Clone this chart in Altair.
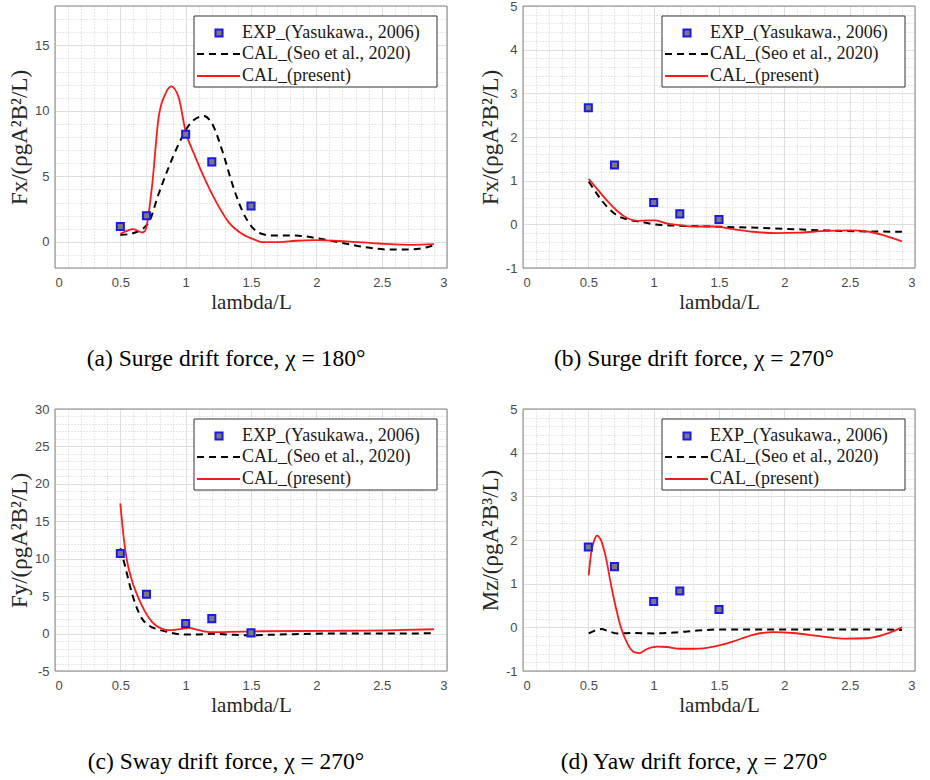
import altair as alt
import pandas as pd

# ---------------- data ----------------
X_EXP = [0.5, 0.7, 1.0, 1.2, 1.5]

# (a) surge, chi = 180
A_EXP = [1.17, 1.99, 8.21, 6.10, 2.73]
A_SEO_X = [0.5, 0.614, 0.717, 0.793, 0.87, 0.947, 1.024, 1.1, 1.14, 1.203, 1.28, 1.357,
           1.433, 1.51, 1.587, 1.664, 1.84, 2.0, 2.18, 2.355, 2.56, 2.71, 2.84, 2.9]
A_SEO_Y = [0.51, 0.71, 1.48, 3.65, 5.69, 7.47, 8.88, 9.52, 9.6, 9.0, 6.96, 4.41,
           2.37, 1.1, 0.59, 0.48, 0.48, 0.28, -0.05, -0.38, -0.59, -0.59, -0.43, -0.26]
A_PRE_X = [0.5, 0.6, 0.665, 0.69, 0.742, 0.793, 0.845, 0.89, 0.947, 0.998, 1.075, 1.152,
           1.228, 1.33, 1.433, 1.536, 1.587, 1.715, 1.84, 1.996, 2.227, 2.48, 2.74, 2.9]
A_PRE_Y = [0.59, 0.97, 0.71, 0.84, 4.2, 9.5, 11.3, 11.86, 11.0, 8.5, 6.45, 4.67,
           3.14, 1.48, 0.59, 0.13, -0.03, -0.03, 0.08, 0.13, 0.03, -0.13, -0.23, -0.18]

# (b) surge, chi = 270
B_EXP = [2.67, 1.36, 0.50, 0.24, 0.11]
B_SEO_X = [0.503, 0.57, 0.647, 0.723, 0.8, 0.9, 1.0, 1.1, 1.31, 1.56, 1.81, 2.07, 2.32, 2.58, 2.9]
B_SEO_Y = [0.98, 0.68, 0.39, 0.2, 0.11, 0.06, 0.0, -0.02, -0.04, -0.06, -0.08, -0.11, -0.14, -0.16, -0.17]
B_PRE_X = [0.503, 0.57, 0.647, 0.723, 0.8, 0.876, 0.95, 1.015, 1.1, 1.2, 1.307, 1.46, 1.61,
           1.76, 1.94, 2.12, 2.32, 2.5, 2.65, 2.78, 2.9]
B_PRE_Y = [1.04, 0.8, 0.53, 0.3, 0.14, 0.08, 0.09, 0.09, 0.02, -0.02, -0.05, -0.05, -0.11,
           -0.17, -0.2, -0.19, -0.15, -0.14, -0.17, -0.27, -0.39]

# (c) sway, chi = 270
C_EXP = [10.7, 5.26, 1.34, 2.0, 0.09]
C_SEO_X = [0.5, 0.538, 0.576, 0.614, 0.666, 0.717, 0.793, 0.87, 0.973, 1.075, 1.2, 1.33,
           1.485, 1.715, 2.1, 2.48, 2.9]
C_SEO_Y = [11.4, 8.9, 6.2, 4.0, 2.0, 1.1, 0.53, 0.18, -0.13, -0.13, -0.04, -0.13,
           -0.22, -0.13, 0.0, 0.0, 0.04]
C_PRE_X = [0.5, 0.525, 0.55, 0.589, 0.64, 0.69, 0.742, 0.819, 0.87, 0.973, 1.02, 1.1, 1.2,
           1.33, 1.587, 2.1, 2.61, 2.9]
C_PRE_Y = [17.4, 12.9, 9.8, 7.1, 4.7, 2.9, 1.56, 0.62, 0.45, 0.62, 0.76, 0.45, 0.18,
           0.22, 0.31, 0.36, 0.45, 0.58]

# (d) yaw, chi = 270
D_EXP = [1.84, 1.39, 0.59, 0.83, 0.41]
D_SEO_X = [0.503, 0.546, 0.6, 0.647, 0.72, 0.85, 1.0, 1.155, 1.31, 1.51, 1.81, 2.32, 2.7, 2.9]
D_SEO_Y = [-0.14, -0.08, -0.04, -0.08, -0.14, -0.13, -0.14, -0.12, -0.08, -0.05, -0.05,
           -0.05, -0.05, -0.06]
D_PRE_X = [0.503, 0.52, 0.546, 0.566, 0.596, 0.635, 0.673, 0.711, 0.749, 0.8, 0.85, 0.888,
           0.952, 1.028, 1.1, 1.2, 1.31, 1.46, 1.61, 1.76, 1.916, 2.07, 2.27, 2.475, 2.63,
           2.78, 2.9]
D_PRE_Y = [1.19, 1.67, 2.0, 2.1, 2.0, 1.59, 0.98, 0.45, 0.0, -0.38, -0.57, -0.59, -0.49,
           -0.44, -0.45, -0.49, -0.49, -0.44, -0.32, -0.17, -0.11, -0.13, -0.2, -0.26,
           -0.25, -0.15, 0.0]

LEGEND_LABELS = ["EXP_(Yasukawa., 2006)", "CAL_(Seo et al., 2020)", "CAL_(present)"]

X_MAJOR = [0, 0.5, 1, 1.5, 2, 2.5, 3]
X_MINOR = [round(i * 0.1, 2) for i in range(31) if i % 5 != 0]

# ---------------- styling ----------------
W, H = 392, 262
SERIF = "Liberation Serif"
SANS = "Liberation Sans"
GRID_MAJOR = "#dedede"
GRID_MINOR = "#cfcfcf"
LABEL_COLOR = "#4a4a4a"
BORDER = "#858585"
RED = "#ff1a1a"
BLUE = "#1a1aee"
GRAY = "#7a7a7a"


def panel(exp_y, seo_x, seo_y, pre_x, pre_y, ydom, ymaj, ymin, ytitle, caption):
    xs = alt.Scale(domain=[0, 3], nice=False, zero=False)
    ys = alt.Scale(domain=ydom, nice=False, zero=False)
    gdf = pd.DataFrame({"x": [0.0], "y": [ydom[0]]})

    minor = alt.Chart(gdf).mark_point(opacity=0).encode(
        x=alt.X("x:Q", scale=xs, axis=alt.Axis(
            orient="top", values=X_MINOR, grid=True, gridDash=[1, 2], gridColor=GRID_MINOR,
            gridWidth=1, labels=False, ticks=False, domain=False, title=None)),
        y=alt.Y("y:Q", scale=ys, axis=alt.Axis(
            orient="right", values=ymin, grid=True, gridDash=[1, 2], gridColor=GRID_MINOR,
            gridWidth=1, labels=False, ticks=False, domain=False, title=None)),
    )
    major = alt.Chart(gdf).mark_point(opacity=0).encode(
        x=alt.X("x:Q", scale=xs, axis=alt.Axis(
            orient="bottom", values=X_MAJOR, grid=True, gridColor=GRID_MAJOR, gridWidth=1,
            ticks=False, domain=False, labelExpr="datum.value + ''",
            labelFont=SANS, labelFontSize=13, labelColor=LABEL_COLOR, labelPadding=8,
            title="lambda/L", titleFont=SERIF, titleFontSize=21, titleFontWeight="normal",
            titleColor="#262626", titlePadding=2)),
        y=alt.Y("y:Q", scale=ys, axis=alt.Axis(
            orient="left", values=ymaj, grid=True, gridColor=GRID_MAJOR, gridWidth=1,
            ticks=False, domain=False, labelExpr="datum.value + ''",
            labelFont=SANS, labelFontSize=13, labelColor=LABEL_COLOR, labelPadding=6,
            title=ytitle, titleFont=SERIF, titleFontSize=23, titleFontWeight="normal",
            titleColor="#262626", titlePadding=3)),
    )

    seo_df = pd.DataFrame({"x": seo_x, "y": seo_y})
    pre_df = pd.DataFrame({"x": pre_x, "y": pre_y})
    exp_df = pd.DataFrame({"x": X_EXP, "y": exp_y})

    seo = alt.Chart(seo_df).mark_line(
        color="black", strokeWidth=2, strokeDash=[7, 5], interpolate="monotone").encode(
        x=alt.X("x:Q", scale=xs, axis=None), y=alt.Y("y:Q", scale=ys, axis=None))
    pre = alt.Chart(pre_df).mark_line(
        color=RED, strokeWidth=1.8, interpolate="monotone").encode(
        x=alt.X("x:Q", scale=xs, axis=None), y=alt.Y("y:Q", scale=ys, axis=None))
    exp = alt.Chart(exp_df).mark_square(
        size=50, fill=GRAY, stroke=BLUE, strokeWidth=2, opacity=1).encode(
        x=alt.X("x:Q", scale=xs, axis=None), y=alt.Y("y:Q", scale=ys, axis=None))

    one = pd.DataFrame({"k": [0]})
    frame = alt.Chart(one).mark_rect(fill=None, stroke=BORDER, strokeWidth=1).encode(
        x=alt.value(0), x2=alt.value(W), y=alt.value(0), y2=alt.value(H))
    lx0, lx1, ly0, ly1 = W - 253, W - 10, 10, 81
    rows = [27, 48, 70]
    box = alt.Chart(one).mark_rect(fill="white", stroke="#333333", strokeWidth=1).encode(
        x=alt.value(lx0), x2=alt.value(lx1), y=alt.value(ly0), y2=alt.value(ly1))
    lsq = alt.Chart(one).mark_square(
        size=50, fill=GRAY, stroke=BLUE, strokeWidth=2, opacity=1).encode(
        x=alt.value(W - 228), y=alt.value(rows[0]))
    ldash = alt.Chart(one).mark_rule(color="black", strokeWidth=2, strokeDash=[7, 5]).encode(
        x=alt.value(W - 250), x2=alt.value(W - 207), y=alt.value(rows[1]))
    lred = alt.Chart(one).mark_rule(color=RED, strokeWidth=1.8).encode(
        x=alt.value(W - 250), x2=alt.value(W - 207), y=alt.value(rows[2]))
    texts = [
        alt.Chart(one).mark_text(
            align="left", baseline="middle", font=SERIF, fontSize=18, color="#1a1a1a").encode(
            x=alt.value(W - 205), y=alt.value(r), text=alt.value(lab))
        for lab, r in zip(LEGEND_LABELS, rows)
    ]

    return alt.layer(minor, major, seo, pre, exp, frame, box, lsq, ldash, lred, *texts).resolve_axis(
        x="independent", y="independent"
    ).properties(
        width=W, height=H,
        title=alt.TitleParams(caption, orient="bottom", anchor="middle", frame="group",
                              dx=-25, offset=35, font=SERIF, fontSize=23.5,
                              fontWeight="normal", color="black"),
    )


pa = panel(A_EXP, A_SEO_X, A_SEO_Y, A_PRE_X, A_PRE_Y, [-2, 18], [0, 5, 10, 15],
           [v for v in range(-2, 19) if v % 5 != 0],
           "Fx/(ρgA²B²/L)", "(a)  Surge drift force, χ  =  180°")
pb = panel(B_EXP, B_SEO_X, B_SEO_Y, B_PRE_X, B_PRE_Y, [-1, 5], [-1, 0, 1, 2, 3, 4, 5],
           [round(-1 + i * 0.2, 2) for i in range(31) if i % 5 != 0],
           "Fx/(ρgA²B²/L)", "(b)  Surge drift force, χ  =  270°")
pc = panel(C_EXP, C_SEO_X, C_SEO_Y, C_PRE_X, C_PRE_Y, [-5, 30], [-5, 0, 5, 10, 15, 20, 25, 30],
           [v for v in range(-5, 31) if v % 5 != 0],
           "Fy/(ρgA²B²/L)", "(c)  Sway drift force, χ  =  270°")
pd_ = panel(D_EXP, D_SEO_X, D_SEO_Y, D_PRE_X, D_PRE_Y, [-1, 5], [-1, 0, 1, 2, 3, 4, 5],
            [round(-1 + i * 0.2, 2) for i in range(31) if i % 5 != 0],
            "Mz/(ρgA²B³/L)", "(d)  Yaw drift force, χ  =  270°")

chart = alt.concat(
    pa, pb, pc, pd_, columns=2, bounds="flush",
    spacing={"row": 141, "column": 76},
).configure_view(
    stroke=None
).properties(
    padding={"left": 8, "top": 0, "right": 0, "bottom": 0},
    background="white",
)

chart.save("out.html", embed_options={"renderer": "svg", "actions": False})
